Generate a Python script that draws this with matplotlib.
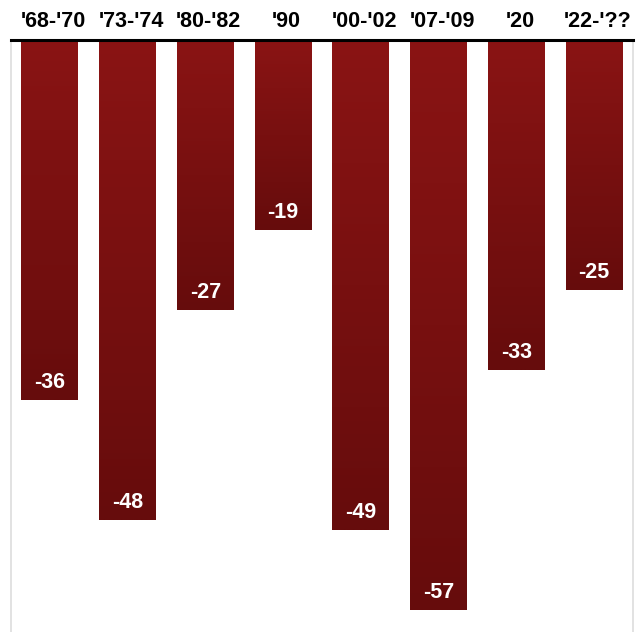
import matplotlib
matplotlib.use("Agg")
import matplotlib.pyplot as plt
import numpy as np
from matplotlib.colors import LinearSegmentedColormap

categories = ["'68-'70", "'73-'74", "'80-'82", "'90", "'00-'02", "'07-'09", "'20", "'22-'??"]
values = [-36, -48, -27, -19, -49, -57, -33, -25]

plt.rcParams['font.family'] = ['Liberation Sans', 'DejaVu Sans']

W, H = 638, 632
fig = plt.figure(figsize=(W / 100, H / 100), dpi=100)
top_px = 39.5
ax = fig.add_axes([11 / W, 0, (633 - 11) / W, 1 - top_px / H])

cmap = LinearSegmentedColormap.from_list("g", ["#8a1414", "#660c0c"])
grad = np.linspace(0, 1, 256).reshape(-1, 1)
bw = 0.733
for i, (c, v) in enumerate(zip(categories, values)):
    ax.imshow(grad, cmap=cmap, extent=[i - bw / 2, i + bw / 2, v, 0],
              aspect='auto', origin='upper', interpolation='bilinear', zorder=2)
    ax.text(i, v + 1.75, f"{v}", ha='center', va='center', color='white',
            fontsize=15.5, fontweight='bold', zorder=3)
    ax.text(i + 0.045, 1.8, c, ha='center', va='center', color='black',
            fontsize=15.5, fontweight='bold', clip_on=False)

ax.set_xlim(-0.5, len(categories) - 0.5)
ax.set_ylim(-59.25, 0)
ax.set_xticks([])
ax.set_yticks([])
ax.axhline(0, color='black', lw=2.2, zorder=4, clip_on=False)
for s in ['left', 'right']:
    ax.spines[s].set_color('#dddddd')
    ax.spines[s].set_linewidth(1.2)
for s in ['top', 'bottom']:
    ax.spines[s].set_visible(False)

fig.savefig("out.png", dpi=100)
